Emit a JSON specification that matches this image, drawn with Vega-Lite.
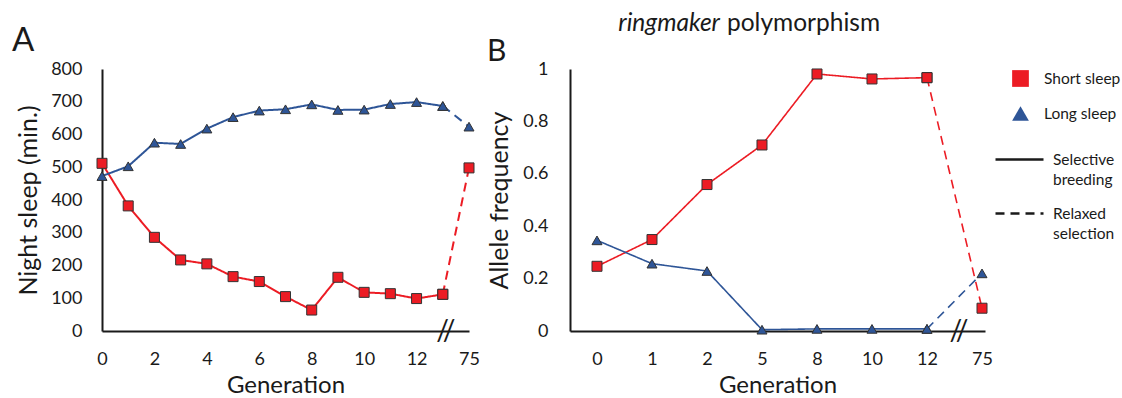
{
  "$schema": "https://vega.github.io/schema/vega-lite/v6.json",
  "background": "white",
  "padding": {"left": 12, "top": 10, "right": 0, "bottom": 0},
  "config": {
    "font": "Lato",
    "view": {"stroke": null},
    "axis": {
      "domainColor": "#1a1a1a", "domainWidth": 2, "ticks": false, "grid": false, "labelOverlap": false,
      "labelFont": "Lato", "labelFontSize": 18, "labelColor": "#1a1a1a",
      "titleFont": "Lato", "titleFontSize": 24, "titleFontWeight": "normal", "titleColor": "#1a1a1a"
    },
    "axisY": {"titleFontSize": 25},
    "legend": {"labelFont": "Lato", "labelFontSize": 15.5, "labelColor": "#1a1a1a", "padding": 0, "labelLimit": 200}
  },
  "datasets": {
    "sleep": [
      {"series": "Short sleep", "gen": 0, "value": 512, "phase": "Selective breeding"},
      {"series": "Short sleep", "gen": 1, "value": 382, "phase": "Selective breeding"},
      {"series": "Short sleep", "gen": 2, "value": 286, "phase": "Selective breeding"},
      {"series": "Short sleep", "gen": 3, "value": 217, "phase": "Selective breeding"},
      {"series": "Short sleep", "gen": 4, "value": 205, "phase": "Selective breeding"},
      {"series": "Short sleep", "gen": 5, "value": 166, "phase": "Selective breeding"},
      {"series": "Short sleep", "gen": 6, "value": 151, "phase": "Selective breeding"},
      {"series": "Short sleep", "gen": 7, "value": 105, "phase": "Selective breeding"},
      {"series": "Short sleep", "gen": 8, "value": 64, "phase": "Selective breeding"},
      {"series": "Short sleep", "gen": 9, "value": 164, "phase": "Selective breeding"},
      {"series": "Short sleep", "gen": 10, "value": 118, "phase": "Selective breeding"},
      {"series": "Short sleep", "gen": 11, "value": 114, "phase": "Selective breeding"},
      {"series": "Short sleep", "gen": 12, "value": 99, "phase": "Selective breeding"},
      {"series": "Short sleep", "gen": 13, "value": 112, "phase": "Selective breeding"},
      {"series": "Short sleep", "gen": 13, "value": 112, "phase": "Relaxed selection"},
      {"series": "Short sleep", "gen": 75, "value": 498, "phase": "Relaxed selection"},
      {"series": "Long sleep", "gen": 0, "value": 473, "phase": "Selective breeding"},
      {"series": "Long sleep", "gen": 1, "value": 503, "phase": "Selective breeding"},
      {"series": "Long sleep", "gen": 2, "value": 575, "phase": "Selective breeding"},
      {"series": "Long sleep", "gen": 3, "value": 571, "phase": "Selective breeding"},
      {"series": "Long sleep", "gen": 4, "value": 618, "phase": "Selective breeding"},
      {"series": "Long sleep", "gen": 5, "value": 653, "phase": "Selective breeding"},
      {"series": "Long sleep", "gen": 6, "value": 673, "phase": "Selective breeding"},
      {"series": "Long sleep", "gen": 7, "value": 677, "phase": "Selective breeding"},
      {"series": "Long sleep", "gen": 8, "value": 692, "phase": "Selective breeding"},
      {"series": "Long sleep", "gen": 9, "value": 675, "phase": "Selective breeding"},
      {"series": "Long sleep", "gen": 10, "value": 676, "phase": "Selective breeding"},
      {"series": "Long sleep", "gen": 11, "value": 693, "phase": "Selective breeding"},
      {"series": "Long sleep", "gen": 12, "value": 699, "phase": "Selective breeding"},
      {"series": "Long sleep", "gen": 13, "value": 687, "phase": "Selective breeding"},
      {"series": "Long sleep", "gen": 13, "value": 687, "phase": "Relaxed selection"},
      {"series": "Long sleep", "gen": 75, "value": 624, "phase": "Relaxed selection"}
    ],
    "allele": [
      {"series": "Short sleep", "gen": 0, "value": 0.247, "phase": "Selective breeding"},
      {"series": "Short sleep", "gen": 1, "value": 0.349, "phase": "Selective breeding"},
      {"series": "Short sleep", "gen": 2, "value": 0.559, "phase": "Selective breeding"},
      {"series": "Short sleep", "gen": 5, "value": 0.71, "phase": "Selective breeding"},
      {"series": "Short sleep", "gen": 8, "value": 0.981, "phase": "Selective breeding"},
      {"series": "Short sleep", "gen": 10, "value": 0.962, "phase": "Selective breeding"},
      {"series": "Short sleep", "gen": 12, "value": 0.967, "phase": "Selective breeding"},
      {"series": "Short sleep", "gen": 12, "value": 0.967, "phase": "Relaxed selection"},
      {"series": "Short sleep", "gen": 75, "value": 0.087, "phase": "Relaxed selection"},
      {"series": "Long sleep", "gen": 0, "value": 0.346, "phase": "Selective breeding"},
      {"series": "Long sleep", "gen": 1, "value": 0.257, "phase": "Selective breeding"},
      {"series": "Long sleep", "gen": 2, "value": 0.229, "phase": "Selective breeding"},
      {"series": "Long sleep", "gen": 5, "value": 0.005, "phase": "Selective breeding"},
      {"series": "Long sleep", "gen": 8, "value": 0.008, "phase": "Selective breeding"},
      {"series": "Long sleep", "gen": 10, "value": 0.008, "phase": "Selective breeding"},
      {"series": "Long sleep", "gen": 12, "value": 0.008, "phase": "Selective breeding"},
      {"series": "Long sleep", "gen": 12, "value": 0.008, "phase": "Relaxed selection"},
      {"series": "Long sleep", "gen": 75, "value": 0.22, "phase": "Relaxed selection"}
    ]
  },
  "bounds": "flush",
  "spacing": 101,
  "resolve": {
    "scale": {"x": "independent", "y": "independent", "fill": "shared", "shape": "shared", "strokeDash": "shared"},
    "legend": {"fill": "shared", "shape": "shared", "strokeDash": "shared"}
  },
  "hconcat": [
    {
      "width": 367,
      "height": 262,
      "title": {"text": "A", "anchor": "start", "frame": "group", "dx": -90, "dy": -2, "offset": 0, "fontSize": 33, "fontWeight": "normal", "font": "Lato", "color": "#1a1a1a"},
      "layer": [
        {
          "data": {"name": "sleep"},
          "transform": [{"filter": "datum.series == 'Short sleep'"}],
          "mark": {"type": "line", "strokeWidth": 2, "color": "#ec1c24"},
          "encoding": {
            "x": {"field": "gen", "type": "ordinal", "title": "Generation",
                  "scale": {"type": "point", "domain": [0,1,2,3,4,5,6,7,8,9,10,11,12,13,75], "padding": 0},
                  "axis": {"values": [0,2,4,6,8,10,12,75], "labelAngle": 0, "labelPadding": 19, "titlePadding": 5}},
            "y": {"field": "value", "type": "quantitative", "title": "Night sleep (min.)",
                  "scale": {"domain": [0, 800], "nice": false, "zero": true},
                  "axis": {"values": [0,100,200,300,400,500,600,700,800], "labelPadding": 20, "titlePadding": 9}},
            "strokeDash": {"field": "phase", "type": "nominal",
              "scale": {"domain": ["Selective breeding", "Relaxed selection"], "range": [[1, 0], [9, 6]]},
              "legend": {"title": null, "orient": "none", "legendX": 892, "legendY": 65, "symbolType": "stroke", "symbolSize": 2304, "symbolStrokeColor": "#1a1a1a", "symbolStrokeWidth": 2.5, "rowPadding": -6, "labelOffset": 8,
                "labelExpr": "datum.label == 'Selective breeding' ? ['Selective', 'breeding'] : ['Relaxed', 'selection']",
                "encode": {"labels": {"update": {"lineHeight": {"value": 20}}}}}}
          }
        },
        {
          "data": {"name": "sleep"},
          "transform": [{"filter": "datum.series == 'Long sleep'"}],
          "mark": {"type": "line", "strokeWidth": 2, "color": "#2e5597"},
          "encoding": {
            "x": {"field": "gen", "type": "ordinal", "title": "Generation",
                  "scale": {"type": "point", "domain": [0,1,2,3,4,5,6,7,8,9,10,11,12,13,75], "padding": 0},
                  "axis": {"values": [0,2,4,6,8,10,12,75], "labelAngle": 0, "labelPadding": 19, "titlePadding": 5}},
            "y": {"field": "value", "type": "quantitative", "title": "Night sleep (min.)",
                  "scale": {"domain": [0, 800], "nice": false, "zero": true},
                  "axis": {"values": [0,100,200,300,400,500,600,700,800], "labelPadding": 20, "titlePadding": 9}},
            "strokeDash": {"field": "phase", "type": "nominal"}
          }
        },
        {
          "data": {"name": "sleep"},
          "mark": {"type": "point", "filled": true, "size": 100, "stroke": "#333333", "strokeWidth": 1, "opacity": 1},
          "encoding": {
            "x": {"field": "gen", "type": "ordinal", "title": "Generation",
                  "scale": {"type": "point", "domain": [0,1,2,3,4,5,6,7,8,9,10,11,12,13,75], "padding": 0},
                  "axis": {"values": [0,2,4,6,8,10,12,75], "labelAngle": 0, "labelPadding": 19, "titlePadding": 5}},
            "y": {"field": "value", "type": "quantitative", "title": "Night sleep (min.)",
                  "scale": {"domain": [0, 800], "nice": false, "zero": true},
                  "axis": {"values": [0,100,200,300,400,500,600,700,800], "labelPadding": 20, "titlePadding": 9}},
            "fill": {"field": "series", "type": "nominal", "scale": {"domain": ["Short sleep", "Long sleep"], "range": ["#ec1c24", "#2e5597"]},
              "legend": {"title": null, "orient": "none", "legendX": 909, "legendY": 0, "symbolSize": 280, "symbolStrokeColor": "#1a1a1a", "symbolStrokeWidth": 1.5, "rowPadding": 13, "labelOffset": 14}},
            "shape": {"field": "series", "type": "nominal", "scale": {"domain": ["Short sleep", "Long sleep"], "range": ["square", "triangle-up"]},
              "legend": {"title": null, "orient": "none", "legendX": 909, "legendY": 0, "symbolSize": 280, "symbolStrokeColor": "#1a1a1a", "symbolStrokeWidth": 1.5, "rowPadding": 13, "labelOffset": 14}}
          }
        },
        {
          "data": {"values": [{"t": "//"}]},
          "mark": {"type": "text", "fontSize": 28, "dx": 3, "dy": 1, "baseline": "middle", "align": "center", "color": "#1a1a1a"},
          "encoding": {
            "x": {"datum": 13, "type": "ordinal", "title": "Generation",
                  "scale": {"type": "point", "domain": [0,1,2,3,4,5,6,7,8,9,10,11,12,13,75], "padding": 0},
                  "axis": {"values": [0,2,4,6,8,10,12,75], "labelAngle": 0, "labelPadding": 19, "titlePadding": 5}},
            "y": {"datum": 0, "type": "quantitative", "title": "Night sleep (min.)",
                  "scale": {"domain": [0, 800], "nice": false, "zero": true},
                  "axis": {"values": [0,100,200,300,400,500,600,700,800], "labelPadding": 20, "titlePadding": 9}},
            "text": {"field": "t"}
          }
        }
      ]
    },
    {
      "width": 415,
      "height": 262,
      "title": {"text": "B", "anchor": "start", "frame": "group", "dx": -83, "dy": 56, "offset": 0, "fontSize": 30, "fontWeight": "normal", "font": "Lato", "color": "#1a1a1a"},
      "layer": [
        {
          "data": {"name": "allele"},
          "transform": [{"filter": "datum.series == 'Short sleep'"}],
          "mark": {"type": "line", "strokeWidth": 1.6, "color": "#ec1c24"},
          "encoding": {
            "x": {"field": "gen", "type": "ordinal", "title": "Generation",
                  "scale": {"type": "point", "domain": [0,1,2,5,8,10,12,75], "padding": 0.2727, "align": 0.9},
                  "axis": {"labelAngle": 0, "labelPadding": 19, "titlePadding": 5}},
            "y": {"field": "value", "type": "quantitative", "title": "Allele frequency",
                  "scale": {"domain": [0, 1], "nice": false},
                  "axis": {"values": [0, 0.2, 0.4, 0.6, 0.8, 1], "format": "~g", "labelPadding": 22, "titlePadding": 10}},
            "strokeDash": {"field": "phase", "type": "nominal",
              "legend": {"title": null, "orient": "none", "legendX": 892, "legendY": 65, "symbolType": "stroke", "symbolSize": 2304, "symbolStrokeColor": "#1a1a1a", "symbolStrokeWidth": 2.5, "rowPadding": -6, "labelOffset": 8,
                "labelExpr": "datum.label == 'Selective breeding' ? ['Selective', 'breeding'] : ['Relaxed', 'selection']",
                "encode": {"labels": {"update": {"lineHeight": {"value": 20}}}}}}
          }
        },
        {
          "data": {"name": "allele"},
          "transform": [{"filter": "datum.series == 'Long sleep'"}],
          "mark": {"type": "line", "strokeWidth": 1.6, "color": "#2e5597"},
          "encoding": {
            "x": {"field": "gen", "type": "ordinal", "title": "Generation",
                  "scale": {"type": "point", "domain": [0,1,2,5,8,10,12,75], "padding": 0.2727, "align": 0.9},
                  "axis": {"labelAngle": 0, "labelPadding": 19, "titlePadding": 5}},
            "y": {"field": "value", "type": "quantitative", "title": "Allele frequency",
                  "scale": {"domain": [0, 1], "nice": false},
                  "axis": {"values": [0, 0.2, 0.4, 0.6, 0.8, 1], "format": "~g", "labelPadding": 22, "titlePadding": 10}},
            "strokeDash": {"field": "phase", "type": "nominal"}
          }
        },
        {
          "data": {"name": "allele"},
          "mark": {"type": "point", "filled": true, "size": 100, "stroke": "#333333", "strokeWidth": 1, "opacity": 1},
          "encoding": {
            "x": {"field": "gen", "type": "ordinal", "title": "Generation",
                  "scale": {"type": "point", "domain": [0,1,2,5,8,10,12,75], "padding": 0.2727, "align": 0.9},
                  "axis": {"labelAngle": 0, "labelPadding": 19, "titlePadding": 5}},
            "y": {"field": "value", "type": "quantitative", "title": "Allele frequency",
                  "scale": {"domain": [0, 1], "nice": false},
                  "axis": {"values": [0, 0.2, 0.4, 0.6, 0.8, 1], "format": "~g", "labelPadding": 22, "titlePadding": 10}},
            "fill": {"field": "series", "type": "nominal",
              "legend": {"title": null, "orient": "none", "legendX": 909, "legendY": 0, "symbolSize": 280, "symbolStrokeColor": "#1a1a1a", "symbolStrokeWidth": 1.5, "rowPadding": 13, "labelOffset": 14}},
            "shape": {"field": "series", "type": "nominal",
              "legend": {"title": null, "orient": "none", "legendX": 909, "legendY": 0, "symbolSize": 280, "symbolStrokeColor": "#1a1a1a", "symbolStrokeWidth": 1.5, "rowPadding": 13, "labelOffset": 14}}
          }
        },
        {
          "data": {"values": [{"t": "//"}]},
          "mark": {"type": "text", "fontSize": 28, "dx": 32, "dy": 1, "baseline": "middle", "align": "center", "color": "#1a1a1a"},
          "encoding": {
            "x": {"datum": 12, "type": "ordinal", "title": "Generation",
                  "scale": {"type": "point", "domain": [0,1,2,5,8,10,12,75], "padding": 0.2727, "align": 0.9},
                  "axis": {"labelAngle": 0, "labelPadding": 19, "titlePadding": 5}},
            "y": {"datum": 0, "type": "quantitative", "title": "Allele frequency",
                  "scale": {"domain": [0, 1], "nice": false},
                  "axis": {"values": [0, 0.2, 0.4, 0.6, 0.8, 1], "format": "~g", "labelPadding": 22, "titlePadding": 10}},
            "text": {"field": "t"}
          }
        },
        {
          "data": {"values": [{"t": "ringmaker"}]},
          "mark": {"type": "text", "fontSize": 24.5, "fontStyle": "italic", "dx": 13, "baseline": "alphabetic", "align": "right", "color": "#1a1a1a"},
          "encoding": {
            "x": {"datum": 2, "type": "ordinal", "title": "Generation",
                  "scale": {"type": "point", "domain": [0,1,2,5,8,10,12,75], "padding": 0.2727, "align": 0.9},
                  "axis": {"labelAngle": 0, "labelPadding": 19, "titlePadding": 5}},
            "y": {"datum": 1.146, "type": "quantitative", "title": "Allele frequency",
                  "scale": {"domain": [0, 1], "nice": false},
                  "axis": {"values": [0, 0.2, 0.4, 0.6, 0.8, 1], "format": "~g", "labelPadding": 22, "titlePadding": 10}},
            "text": {"field": "t"}
          }
        },
        {
          "data": {"values": [{"t": "polymorphism"}]},
          "mark": {"type": "text", "fontSize": 24.5, "dx": 20, "baseline": "alphabetic", "align": "left", "color": "#1a1a1a"},
          "encoding": {
            "x": {"datum": 2, "type": "ordinal", "title": "Generation",
                  "scale": {"type": "point", "domain": [0,1,2,5,8,10,12,75], "padding": 0.2727, "align": 0.9},
                  "axis": {"labelAngle": 0, "labelPadding": 19, "titlePadding": 5}},
            "y": {"datum": 1.146, "type": "quantitative", "title": "Allele frequency",
                  "scale": {"domain": [0, 1], "nice": false},
                  "axis": {"values": [0, 0.2, 0.4, 0.6, 0.8, 1], "format": "~g", "labelPadding": 22, "titlePadding": 10}},
            "text": {"field": "t"}
          }
        }
      ]
    }
  ]
}
